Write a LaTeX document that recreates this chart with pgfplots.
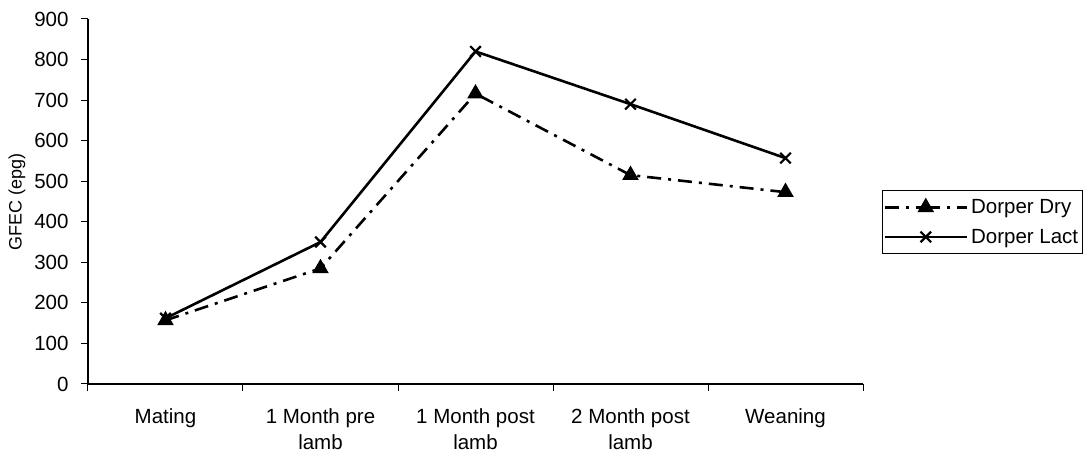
\documentclass[border=0pt]{standalone}
\usepackage{pgfplots}
\pgfplotsset{compat=1.18}
\usepackage{fontspec}
\setmainfont{Liberation Sans}

\begin{document}
\begin{tikzpicture}
\useasboundingbox (-88pt,-73pt) rectangle (1004pt,19pt+365pt);
\begin{axis}[
  scale only axis, width=775pt, height=365pt,
  at={(0,0)}, anchor=south west,
  axis lines=left, axis line style={-, line width=1.2pt},
  xmin=-0.5, xmax=4.5, ymin=0, ymax=900,
  ytick={0,100,...,900},
  xtick={-0.5,0.5,1.5,2.5,3.5,4.5},
  x tick label as interval,
  xticklabels={Mating,{1 Month pre\\lamb},{1 Month post\\lamb},{2 Month post\\lamb},Weaning},
  xticklabel style={align=center, yshift=-14pt},
  yticklabel style={xshift=-9pt},
  tick style={black, line width=1pt},
  tick align=outside, major tick length=7pt,
  ticklabel style={font=\fontsize{20.5}{26}\selectfont},
  /pgf/number format/assume math mode=true,
  ylabel={GFEC (epg)},
  ylabel style={font=\fontsize{18}{20}\selectfont, yshift=2pt},
  legend style={at={(1.0245,0.5315)}, anchor=north west, draw=black, line width=1pt,
    font=\fontsize{20.5}{22}\selectfont, row sep=10pt, inner ysep=7pt, inner xsep=1pt,
    nodes={inner xsep=3pt}},
  legend cell align=left,
  every axis plot/.append style={line width=2.6pt, black},
  legend image code/.code={\draw[#1] (0pt,0pt) -- (41pt,0pt) plot coordinates {(41pt,0pt)} -- (82pt,0pt);},
]
\addplot[dash pattern=on 14pt off 7pt on 3pt off 7pt, mark=triangle*, mark size=7pt,
  mark options={solid, fill=black}]
  coordinates {(0,157) (1,285) (2,716) (3,515) (4,473)};
\addlegendentry{Dorper Dry}
\addplot[solid, mark=x, mark size=7.5pt, mark options={solid, line width=2.2pt}]
  coordinates {(0,162) (1,350) (2,820) (3,690) (4,557)};
\addlegendentry{Dorper Lact}
\end{axis}
\end{tikzpicture}
\end{document}
